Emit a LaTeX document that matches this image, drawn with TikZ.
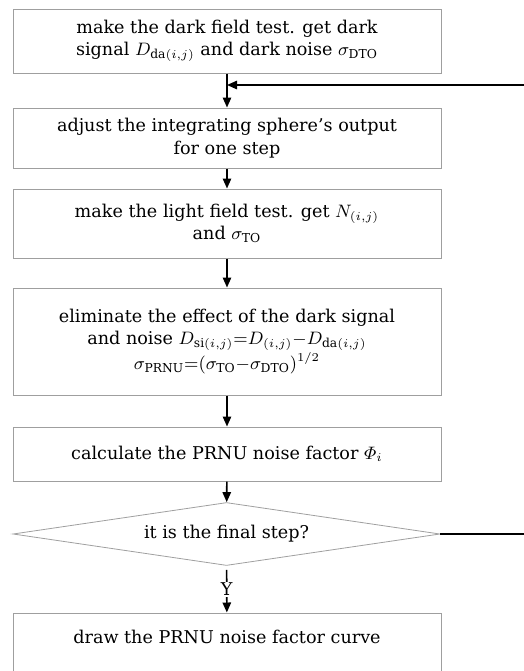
\documentclass[tikz,border=0pt]{standalone}
\usepackage{amsmath}
\usepackage{fontspec}
\setmainfont{DejaVu Serif}
\usetikzlibrary{shapes.geometric,arrows.meta}
\begin{document}
\begin{tikzpicture}[x=0.5pt,y=-0.5pt,
	stepbox/.style={draw=gray!75,line width=0.5pt,minimum width=214pt,inner sep=2pt,align=center,font=\fontsize{8.8}{11.2}\selectfont},
	check/.style={diamond,aspect=6.8,draw=gray!75,line width=0.4pt,minimum width=213.5pt,minimum height=31.5pt,inner sep=0pt,font=\fontsize{8.8}{11.2}\selectfont},
	flow/.style={-{Triangle[length=5pt,width=4.2pt]},line width=0.8pt}]
		\useasboundingbox (0,0) rectangle (524,671);
		\node[stepbox,minimum height=32pt] (dark) at (227,41) {make the dark field test. get dark\\signal $D_{\mathrm{da}(i,j)}$ and dark noise $\sigma_{\mathrm{DTO}}$};
		\node[stepbox,minimum height=30pt] (adjust) at (227,138) {adjust the integrating sphere's output\\for one step};
		\node[stepbox,minimum height=34.5pt] (light) at (227,223.5) {make the light field test. get $N_{(i,j)}$\\and $\sigma_{\mathrm{TO}}$};
		\node[stepbox,minimum height=53.5pt] (elim) at (227,341.5) {eliminate the effect of the dark signal\\and noise $D_{\mathrm{si}(i,j)}{=}D_{(i,j)}{-}D_{\mathrm{da}(i,j)}$\\$\sigma_{\mathrm{PRNU}}{=}(\sigma_{\mathrm{TO}}{-}\sigma_{\mathrm{DTO}})^{1/2}$};
		\node[stepbox,minimum height=27pt] (calc) at (227,454) {calculate the PRNU noise factor $\varPhi_i$};
		\node[check] (final) at (226.5,534) {it is the final step?};
		\node[stepbox,minimum height=33pt,text depth=9pt] (curve) at (227,646) {draw the PRNU noise factor curve};
		\coordinate (join) at (227,85);
		\draw[flow] (dark) -- (adjust);
		\draw[flow] (adjust) -- (light);
		\draw[flow] (light) -- (elim);
		\draw[flow] (elim) -- (calc);
		\draw[flow] (calc) -- (final);
		\draw[flow,shorten <=2pt] (final) -- node[fill=white,inner sep=0.5pt,font=\fontsize{8.8}{9}\selectfont] {Y} (curve);
		% loop back, runs outside the picture
		\draw[flow] (final.east) -- (534,534) -- (534,85) -- (join);
\end{tikzpicture}
\end{document}
